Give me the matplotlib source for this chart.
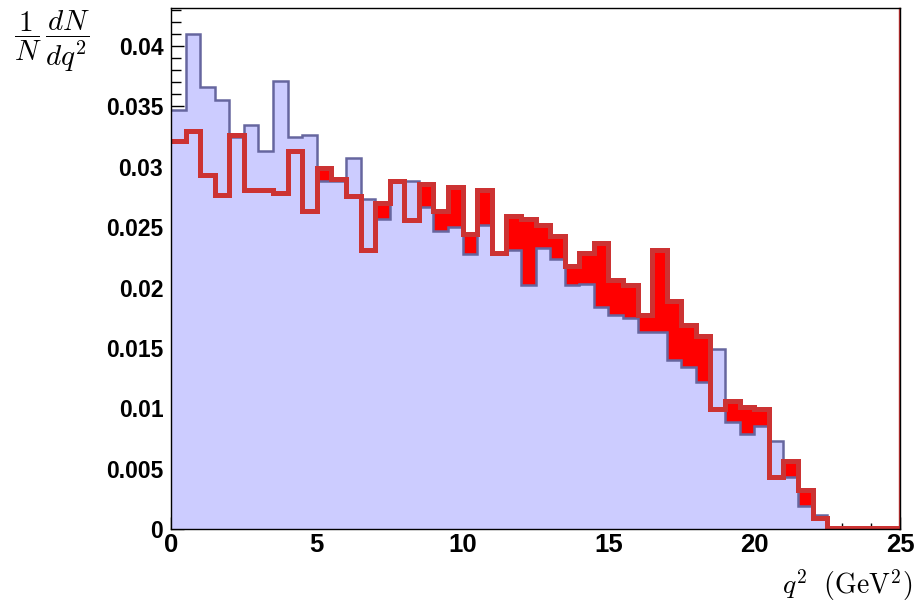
import numpy as np
import matplotlib.pyplot as plt
from matplotlib.ticker import MultipleLocator, FuncFormatter
from matplotlib import transforms

plt.rcParams['mathtext.fontset'] = 'cm'
plt.rcParams['font.family'] = ['Liberation Sans', 'DejaVu Sans']

# 50 bins of width 0.5 GeV^2 from 0 to 25
edges = np.linspace(0, 25, 51)

blue_vals = [0.0347, 0.0410, 0.0366, 0.0355, 0.0325, 0.0335, 0.0313, 0.0371, 0.0325, 0.0326,
             0.0288, 0.0288, 0.0307, 0.0273, 0.0257, 0.0287, 0.0288, 0.0267, 0.0247, 0.0250,
             0.0228, 0.0252, 0.0229, 0.0231, 0.0202, 0.0233, 0.0224, 0.0202, 0.0203, 0.0184,
             0.0177, 0.0175, 0.0163, 0.0163, 0.0140, 0.0134, 0.0122, 0.0149, 0.0089, 0.0079,
             0.0085, 0.0073, 0.0043, 0.0019, 0.0012, 0.0001, 0.0, 0.0, 0.0, 0.0]

red_vals = [0.0321, 0.0330, 0.0293, 0.0277, 0.0326, 0.0281, 0.0281, 0.0278, 0.0313, 0.0263,
            0.0299, 0.0290, 0.0276, 0.0231, 0.0270, 0.0288, 0.0256, 0.0286, 0.0263, 0.0283,
            0.0244, 0.0281, 0.0229, 0.0259, 0.0257, 0.0252, 0.0243, 0.0218, 0.0229, 0.0237,
            0.0206, 0.0202, 0.0177, 0.0231, 0.0189, 0.0169, 0.0160, 0.0099, 0.0106, 0.0101,
            0.0099, 0.0043, 0.0056, 0.0032, 0.0009, 0.0001, 0.0001, 0.0001, 0.0001, 0.0001]

y_ticks = [0, 0.005, 0.01, 0.015, 0.02, 0.025, 0.03, 0.035, 0.04]
x_ticks = [0, 5, 10, 15, 20, 25]

fig = plt.figure(figsize=(9.16, 6.04), dpi=100)
ax = fig.add_axes([171 / 916, 75 / 604, 729 / 916, 521 / 604])

# red fill first, light blue fill covers it wherever blue is higher
ax.stairs(red_vals, edges, fill=True, color='#ff0000', zorder=1)
ax.stairs(blue_vals, edges, fill=True, color='#ccccff', zorder=2)
ax.stairs(blue_vals, edges, baseline=None, color='#66669f', lw=1.8, zorder=3)
ax.stairs(red_vals, edges, baseline=None, color='#cc3333', lw=3.6, zorder=4)

# thin red line just inside the right frame
off = transforms.offset_copy(ax.transData, fig=fig, x=-1.2, y=0, units='dots')
ax.plot([edges[-1], edges[-1]], [0, 1], color='#cc3333', lw=1.0,
        transform=transforms.blended_transform_factory(off, ax.transAxes),
        clip_on=False, zorder=5)

ax.set_xlim(0, 25)
ax.set_ylim(0, 0.04315)

ax.set_xticks(x_ticks)
ax.set_yticks(y_ticks)
ax.xaxis.set_minor_locator(MultipleLocator(1))
ax.yaxis.set_minor_locator(MultipleLocator(0.001))
ax.yaxis.set_major_formatter(FuncFormatter(lambda v, p: f'{round(v, 4):g}'))

ax.tick_params(axis='both', which='both', direction='in', top=False, right=False, width=1.0, color='black')
ax.tick_params(axis='y', which='major', length=9, pad=5.5, labelsize=16.5)
ax.tick_params(axis='y', which='minor', length=7)
ax.tick_params(axis='x', which='major', length=9, pad=3, labelsize=18.5)
ax.tick_params(axis='x', which='minor', length=4.5)
for lab in ax.get_xticklabels() + ax.get_yticklabels():
    lab.set_fontweight('bold')

for sp in ax.spines.values():
    sp.set_linewidth(1.0)
    sp.set_color('black')
    sp.set_zorder(6)

fig.text(52 / 916, 1 - 42 / 604, r'$\dfrac{1}{N}\,\dfrac{dN}{dq^2}$', fontsize=21, ha='center', va='center')
fig.text(912 / 916, 1 - 585 / 604, r'$q^2\ \ (\mathrm{GeV}^2)$', fontsize=20, ha='right', va='center')

fig.savefig('out.png', dpi=100)
